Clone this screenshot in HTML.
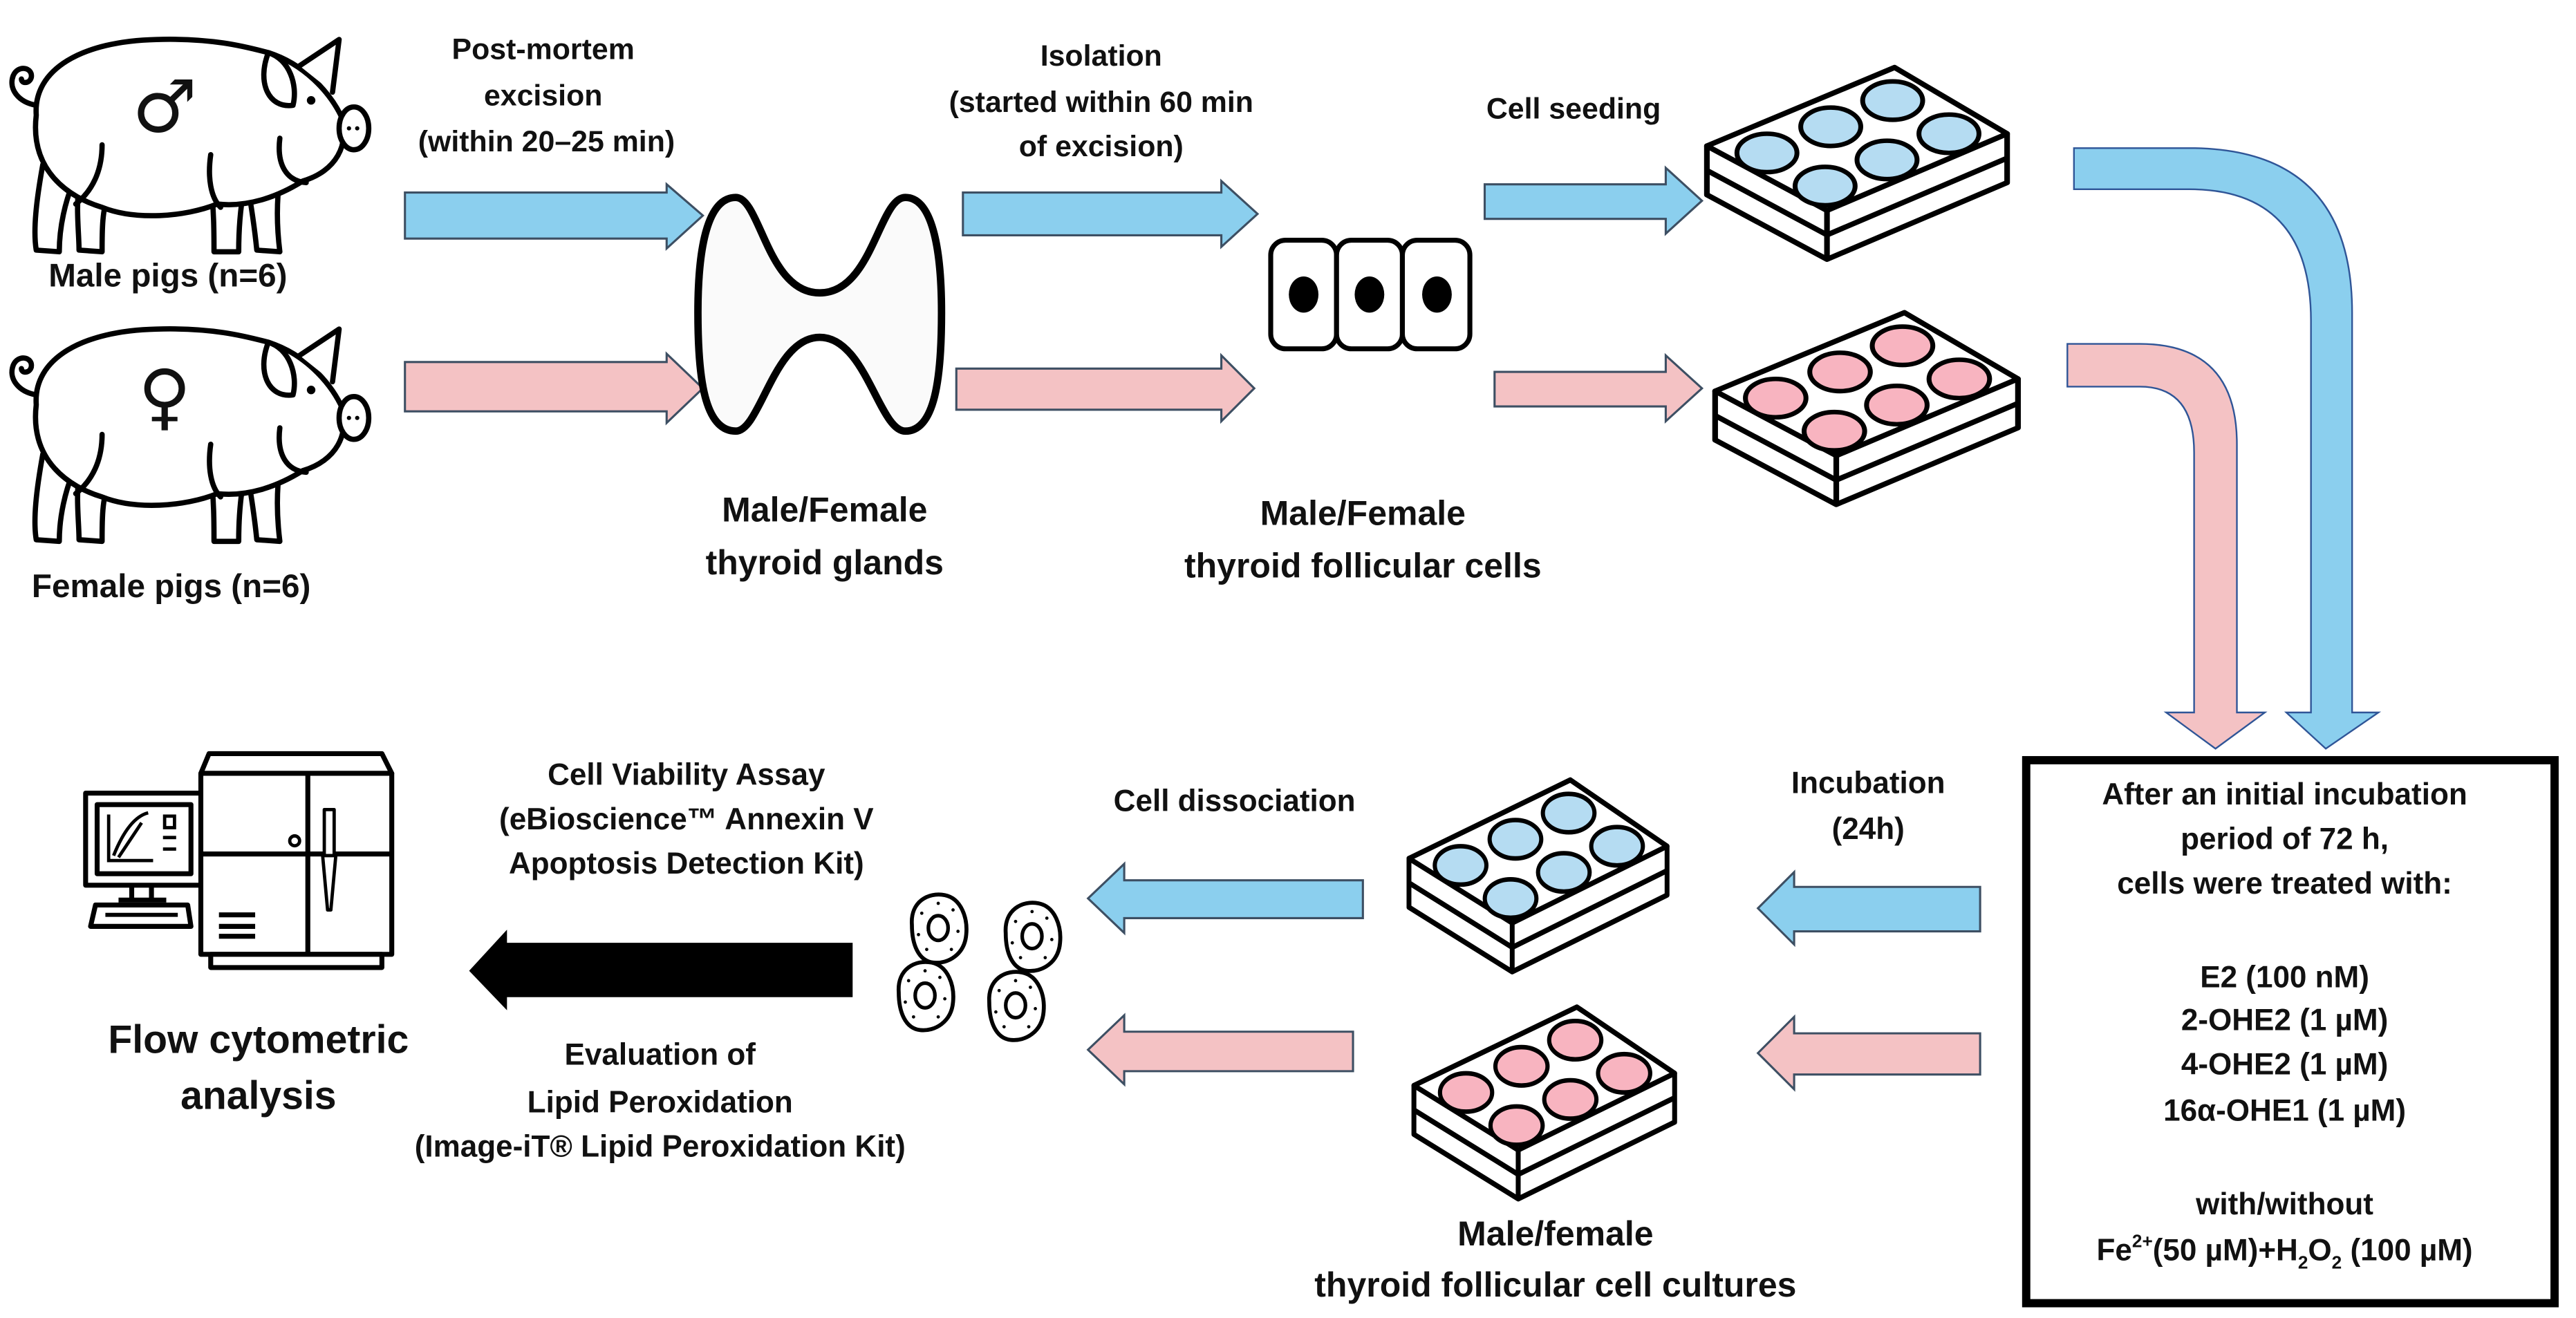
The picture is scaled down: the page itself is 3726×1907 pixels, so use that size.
<!DOCTYPE html>
<html><head><meta charset="utf-8"><style>
html,body{margin:0;padding:0;background:#fff;}
svg{display:block;}
text{font-family:"Liberation Sans",sans-serif;font-weight:bold;fill:#111;text-anchor:middle;}
</style></head><body>
<svg width="3726" height="1907" viewBox="0 0 1565 801" xmlns="http://www.w3.org/2000/svg">
<defs>
<g id="pig">
  <g fill="#fff" stroke="#000" stroke-width="3.2" stroke-linejoin="round" stroke-linecap="round">
    <path d="M26,88 C22,110 20,128 22,140 L36,141 C36,125 40,110 44,100 Z"/>
    <path d="M48,100 C46,115 48,130 48,140 L62,141 C62,128 62,115 66,106 Z"/>
    <path d="M128,100 C130,115 130,130 130,141 L145,141 C145,128 146,115 148,104 Z"/>
    <path d="M150,98 C153,115 155,130 156,140 L170,141 C168,125 168,110 170,96 Z"/>
    <path d="M22,58 C20,30 50,13 95,12 C128,11 148,16 163,20 C185,27 200,44 207,58 C213,76 204,92 184,98 C168,108 150,114 132,112 C112,120 82,122 62,114 C42,108 18,92 22,58 Z"/>
    <path d="M163,20 C156,38 163,54 178,52 C181,40 176,24 163,20 Z"/>
    <path d="M182,28 L206,12 L202,44"/>
    <ellipse cx="215" cy="66" rx="9" ry="13"/>
    <path d="M22,52 C11,50 5,42 8,34 C11,27 20,29 19,35 C18,39 13,39 13,36" fill="none"/>
    <path d="M170,72 C168,88 174,98 186,99" fill="none"/>
    <path d="M62,76 C62,92 56,104 46,112" fill="none"/>
    <path d="M128,82 C126,96 128,108 134,114" fill="none"/>
  </g>
  <circle cx="189" cy="49" r="2.6" fill="#000"/>
  <circle cx="212" cy="66" r="1.3" fill="#000"/><circle cx="217" cy="66" r="1.3" fill="#000"/>
</g>
<g id="plate" stroke="#000" stroke-width="3" stroke-linejoin="round">
  <path d="M0,45 L0,73 L64,110 L160,66 L160,38 Z" fill="#fff"/>
  <path d="M0,59 L64,96 L160,52" fill="none"/>
  <path d="M64,82 L64,110" fill="none"/>
  <path d="M0,45 L100,0 L160,38 L64,82 Z" fill="#fff"/>
</g>
<g id="wellsB" fill="#b5dcf2" stroke="#000" stroke-width="2.6">
  <ellipse cx="32" cy="49" rx="16" ry="11"/><ellipse cx="66" cy="34" rx="16" ry="11"/><ellipse cx="99" cy="19" rx="16" ry="11"/>
  <ellipse cx="63" cy="68" rx="16" ry="11"/><ellipse cx="96" cy="53" rx="16" ry="11"/><ellipse cx="129" cy="38" rx="16" ry="11"/>
</g>
<g id="wellsP" fill="#f8b4c0" stroke="#000" stroke-width="2.6">
  <ellipse cx="32" cy="49" rx="16" ry="11"/><ellipse cx="66" cy="34" rx="16" ry="11"/><ellipse cx="99" cy="19" rx="16" ry="11"/>
  <ellipse cx="63" cy="68" rx="16" ry="11"/><ellipse cx="96" cy="53" rx="16" ry="11"/><ellipse cx="129" cy="38" rx="16" ry="11"/>
</g>
<g id="rcell" fill="#fff" stroke="#000">
  <path d="M-16,-2 C-17,-16 -6,-22 4,-20 C14,-18 18,-6 17,4 C16,16 6,22 -3,21 C-12,20 -16,10 -16,-2 Z" stroke-width="2.4"/>
  <ellipse cx="0" cy="0" rx="6" ry="7.5" stroke-width="2.2"/>
  <g fill="#000" stroke="none"><circle cx="-10" cy="-9" r="1"/><circle cx="9" cy="-11" r="1"/><circle cx="12" cy="2" r="1"/><circle cx="8" cy="13" r="1"/><circle cx="-7" cy="13" r="1"/><circle cx="-12" cy="4" r="1"/><circle cx="0" cy="-15" r="1"/></g>
</g>
</defs>

<!-- pigs -->
<use href="#pig" x="0" y="12"/>
<text x="100" y="80" style="font-size:44px;font-weight:normal;font-family:'DejaVu Sans',sans-serif">♂</text>
<use href="#pig" x="0" y="188"/>
<text x="100" y="256" style="font-size:44px;font-weight:normal;font-family:'DejaVu Sans',sans-serif">♀</text>
<text x="102" y="174" style="font-size:20px">Male pigs (n=6)</text>
<text x="104" y="363" style="font-size:20px">Female pigs (n=6)</text>

<!-- top labels -->
<g style="font-size:18px">
<text x="330" y="36">Post-mortem</text>
<text x="330" y="64">excision</text>
<text x="332" y="92">(within 20–25 min)</text>
<text x="669" y="40">Isolation</text>
<text x="669" y="68">(started within 60 min</text>
<text x="669" y="95">of excision)</text>
<text x="956" y="72">Cell seeding</text>
</g>

<!-- right arrows top -->
<g stroke="#3d4f63" stroke-width="1.3">
<path d="M246,117 L405,117 L405,112 L427,131 L405,151 L405,145 L246,145 Z" fill="#8bcfee"/>
<path d="M246,220 L405,220 L405,215 L427,236 L405,257 L405,250 L246,250 Z" fill="#f4c2c4"/>
<path d="M585,117 L742,117 L742,110 L764,130 L742,150 L742,143 L585,143 Z" fill="#8bcfee"/>
<path d="M581,224 L742,224 L742,216 L762,236 L742,256 L742,249 L581,249 Z" fill="#f4c2c4"/>
<path d="M902,112 L1012,112 L1012,102 L1034,122 L1012,142 L1012,133 L902,133 Z" fill="#8bcfee"/>
<path d="M908,226 L1012,226 L1012,216 L1034,236 L1012,256 L1012,247 L908,247 Z" fill="#f4c2c4"/>
</g>

<!-- thyroid -->
<path d="M447,120 C430,120 424,150 424,190 C424,230 428,262 447,262 C462,262 470,205 498,205 C526,205 534,262 550,262 C568,262 572,230 572,190 C572,150 566,120 550,120 C534,120 530,178 498,178 C466,178 462,120 447,120 Z" fill="#fafafa" stroke="#000" stroke-width="4.5"/>
<text x="501" y="317" style="font-size:21px">Male/Female</text>
<text x="501" y="349" style="font-size:21px">thyroid  glands</text>

<!-- cells -->
<g fill="#fff" stroke="#000" stroke-width="3">
<rect x="772" y="146" width="40" height="66" rx="9"/>
<rect x="812" y="146" width="40" height="66" rx="9"/>
<rect x="852" y="146" width="41" height="66" rx="9"/>
</g>
<g fill="#000"><ellipse cx="792" cy="179" rx="9" ry="11"/><ellipse cx="832" cy="179" rx="9" ry="11"/><ellipse cx="873" cy="179" rx="9" ry="11"/></g>
<text x="828" y="319" style="font-size:21px">Male/Female</text>
<text x="828" y="351" style="font-size:21px">thyroid  follicular cells</text>

<!-- upper plates -->
<g transform="translate(1037,41) scale(1.14,1.06)"><use href="#plate"/><use href="#wellsB"/></g>
<g transform="translate(1042,190) scale(1.15,1.06)"><use href="#plate"/><use href="#wellsP"/></g>

<!-- curved arrows -->
<path d="M1260,90 L1330,90 Q1429,90 1429,190 L1429,433 L1445,433 L1413,455 L1389,433 L1404,433 L1404,195 Q1404,115 1330,115 L1260,115 Z" fill="#8bcfee" stroke="#2f5597" stroke-width="1"/>
<path d="M1256,209 L1300,209 Q1359,209 1359,270 L1359,433 L1376,433 L1346,455 L1316,433 L1333,433 L1333,275 Q1333,235 1300,235 L1256,235 Z" fill="#f4c2c4" stroke="#2f5597" stroke-width="1"/>

<!-- box -->
<rect x="1231" y="462" width="321" height="330" fill="#fff" stroke="#000" stroke-width="5"/>
<g style="font-size:18.5px">
<text x="1388" y="489">After an initial incubation</text>
<text x="1388" y="516">period of 72 h,</text>
<text x="1388" y="543">cells were treated with:</text>
<text x="1388" y="600">E2 (100 nM)</text>
<text x="1388" y="626">2-OHE2 (1 µM)</text>
<text x="1388" y="653">4-OHE2 (1 µM)</text>
<text x="1388" y="681">16α-OHE1 (1 µM)</text>
<text x="1388" y="738">with/without</text>
<text x="1388" y="766">Fe<tspan dy="-8" style="font-size:11px">2+</tspan><tspan dy="8">(50 µM)+H</tspan><tspan dy="5" style="font-size:11px">2</tspan><tspan dy="-5">O</tspan><tspan dy="5" style="font-size:11px">2</tspan><tspan dy="-5"> (100 µM)</tspan></text>
</g>
<text x="1135" y="482" style="font-size:18.5px">Incubation</text>
<text x="1135" y="510" style="font-size:18.5px">(24h)</text>

<!-- left arrows lower right -->
<g stroke="#3d4f63" stroke-width="1.3">
<path d="M1203,539 L1090,539 L1090,530 L1068,552 L1090,574 L1090,566 L1203,566 Z" fill="#8bcfee"/>
<path d="M1203,628 L1090,628 L1090,618 L1068,640 L1090,662 L1090,653 L1203,653 Z" fill="#f4c2c4"/>
<path d="M828,535 L683,535 L683,525 L661,546 L683,567 L683,558 L828,558 Z" fill="#8bcfee"/>
<path d="M822,627 L683,627 L683,617 L661,638 L683,659 L683,651 L822,651 Z" fill="#f4c2c4"/>
</g>

<!-- lower plates -->
<g transform="translate(856,474) scale(0.98,1.06)"><use href="#plate"/><use href="#wellsB"/></g>
<g transform="translate(859,612) scale(0.99,1.06)"><use href="#plate"/><use href="#wellsP"/></g>
<text x="945" y="757" style="font-size:21px">Male/female</text>
<text x="945" y="788" style="font-size:21px">thyroid  follicular cell cultures</text>
<text x="750" y="493" style="font-size:18.5px">Cell dissociation</text>

<!-- round cells -->
<use href="#rcell" x="570" y="564"/>
<use href="#rcell" x="627" y="569"/>
<use href="#rcell" x="562" y="605"/>
<use href="#rcell" x="617" y="611"/>

<!-- black arrow -->
<path d="M518,573 L308,573 L308,565 L285,590 L308,614 L308,606 L518,606 Z" fill="#000"/>

<g style="font-size:18.5px">
<text x="417" y="477">Cell Viability Assay</text>
<text x="417" y="504">(eBioscience™ Annexin V</text>
<text x="417" y="531">Apoptosis Detection Kit)</text>
<text x="401" y="647">Evaluation of</text>
<text x="401" y="676">Lipid Peroxidation</text>
<text x="401" y="703">(Image-iT® Lipid Peroxidation Kit)</text>
</g>

<!-- flow cytometer -->
<g fill="#fff" stroke="#000" stroke-width="3" stroke-linejoin="round">
  <rect x="52" y="482" width="71" height="56"/>
  <rect x="59" y="489" width="57" height="42"/>
  <path d="M80,538 L80,546 M92,538 L92,546" />
  <path d="M72,547 L101,547" stroke-width="3"/>
  <path d="M58,550 L114,550 L116,563 L55,563 Z"/>
  <path d="M64,556 L108,556" stroke-width="2.5"/>
  <path d="M127,458 L232,458 L238,470 L122,470 Z"/>
  <rect x="122" y="470" width="116" height="110"/>
  <path d="M122,519 L238,519 M187,470 L187,580"/>
  <rect x="128" y="580" width="104" height="8"/>
  <circle cx="179" cy="511" r="3" stroke-width="2"/>
  <rect x="197" y="492" width="6" height="28" stroke-width="2"/>
  <path d="M196,520 L204,520 L201,553 L199,553 Z" stroke-width="2"/>
  <path d="M133,556 L155,556 M133,563 L155,563 M133,569 L155,569"/>
</g>
<g fill="none" stroke="#000" stroke-width="2">
  <path d="M66,495 L66,523 L93,523"/>
  <path d="M69,520 C75,505 82,496 90,494"/>
  <path d="M72,521 L86,500"/>
  <rect x="100" y="496" width="6" height="7"/>
  <path d="M99,509 L107,509 M99,516 L107,516"/>
</g>
<text x="157" y="640" style="font-size:24px">Flow cytometric</text>
<text x="157" y="674" style="font-size:24px">analysis</text>
</svg>
</body></html>
